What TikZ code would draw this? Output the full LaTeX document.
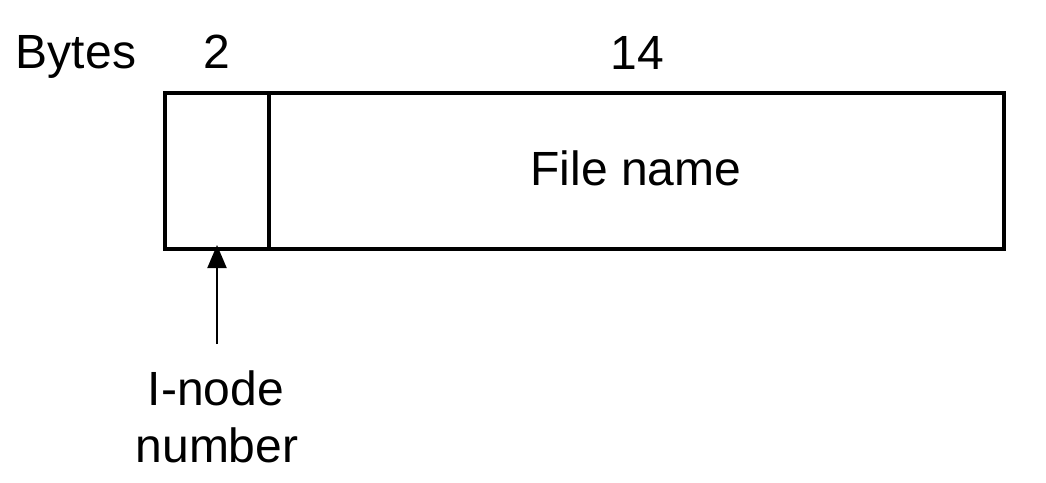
\documentclass[tikz,border=0pt]{standalone}
\usepackage{fontspec}
\setmainfont{Liberation Sans}
\usetikzlibrary{arrows.meta}
\begin{document}
\begin{tikzpicture}[x=1pt,y=-1pt,
  cell/.style={draw,line width=4pt,minimum height=156pt,inner sep=0pt,outer sep=0pt},
  lbl/.style={anchor=base,inner sep=0pt,font=\fontsize{48}{57}\selectfont},
  ptr/.style={line width=2pt,-{Triangle[length=23pt,width=19pt]},shorten >=-4pt}]
\useasboundingbox (0,0) rectangle (1046,482);
\node[cell,minimum width=104pt] (lc) at (217,171) {};
\node[cell,minimum width=735pt] (rc) at (636.5,171) {};
\node[lbl] (bytes) at (76,68) {Bytes};
\node[lbl] (two) at (217,68) {2};
\node[lbl] (fourteen) at (637,69) {14};
\node[lbl] (fname) at (636,185) {File name};
\node[lbl] (inode) at (216,405) {I-node};
\node[lbl] (num) at (217,462) {number};
\coordinate (a0) at (217,344);
\draw[ptr] (a0) -- (lc.south);
\end{tikzpicture}
\end{document}
